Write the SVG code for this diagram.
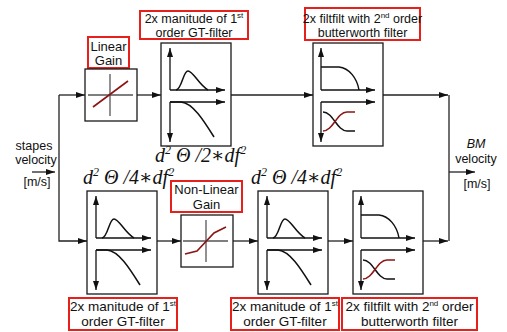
<svg xmlns="http://www.w3.org/2000/svg" xmlns:xlink="http://www.w3.org/1999/xlink" width="507" height="332" viewBox="0 0 507 332">
<style>
.box{fill:#fff;stroke:#1a1a1a;stroke-width:1.3}
.lbl{fill:#fff;stroke:#e8201c;stroke-width:2}
.t{font-family:"Liberation Sans",Arial,sans-serif;font-size:13px;fill:#111;text-anchor:middle}
.ts{font-size:12.5px}
.tb{font-size:13.5px}
.sup{font-size:8px}
.conn{fill:none;stroke:#222;stroke-width:1.3}
.ax{fill:none;stroke:#111;stroke-width:1.3}
.cv{fill:none;stroke:#111;stroke-width:1.5}
.rd{fill:none;stroke:#8b1515;stroke-width:1.6}
.cross{stroke:#555;stroke-width:1.3}
.f{font-family:"Liberation Serif","DejaVu Serif",serif;font-style:italic;font-size:20px;fill:#111}
.fs{font-size:12px}
</style>
<defs>
<marker id="arr" markerUnits="userSpaceOnUse" markerWidth="9" markerHeight="6" refX="9" refY="3" orient="auto">
<path d="M0,0 L9,3 L0,6 z" fill="#111"/>
</marker>
<g id="gtIcon">
<rect class="box" x="0" y="0" width="70" height="103"/>
<path class="ax" d="M9,47 L9,5" marker-end="url(#arr)"/>
<path class="ax" d="M9,47 L64,47" marker-end="url(#arr)"/>
<path class="cv" d="M15,47 C21,46 22,28 27,28 C32,28 38,42 47,47"/>
<path class="ax" d="M9,59 L64,59" marker-end="url(#arr)"/>
<path class="ax" d="M9,59 L9,99" marker-end="url(#arr)"/>
<path class="cv" d="M9,59 L20,59 C32,60 43,78 53,94"/>
</g>
<g id="bwIcon">
<rect class="box" x="0" y="0" width="70" height="103"/>
<path class="ax" d="M8,47 L8,5" marker-end="url(#arr)"/>
<path class="ax" d="M8,47 L62,47" marker-end="url(#arr)"/>
<path class="cv" d="M8,24 L26,24 C36,25 44,35 46,47"/>
<path class="ax" d="M8,59 L62,59" marker-end="url(#arr)"/>
<path class="ax" d="M8,59 L8,99" marker-end="url(#arr)"/>
<path class="cv" d="M10,69 C20,69 24,88 34,88 L42,88"/>
<path class="rd" d="M10,88 C20,88 24,69 34,69 L42,69"/>
</g>
</defs>
<rect width="507" height="332" fill="#fff"/>

<g id="connectors">
<path class="conn" d="M32,172 L55,172" marker-end="url(#arr)"/>
<path class="conn" d="M59,95 L85,95" marker-end="url(#arr)"/>
<path class="conn" d="M59,95 L59,241 L87,241" marker-end="url(#arr)"/>
<path class="conn" d="M137,95 L161,95" marker-end="url(#arr)"/>
<path class="conn" d="M231,95 L313,95" marker-end="url(#arr)"/>
<path class="conn" d="M382,95 L448,95" marker-end="url(#arr)"/>
<path class="conn" d="M449,95 L449,241"/>
<path class="conn" d="M157,241 L181,241" marker-end="url(#arr)"/>
<path class="conn" d="M233,241 L258,241" marker-end="url(#arr)"/>
<path class="conn" d="M327,241 L353,241" marker-end="url(#arr)"/>
<path class="conn" d="M422,241 L448,241" marker-end="url(#arr)"/>
<path class="conn" d="M449,172 L475,172" marker-end="url(#arr)"/>
</g>

<g id="input">
<text class="t ts" x="34" y="149.5">stapes</text>
<text class="t ts" x="36" y="164">velocity</text>
<text class="t ts" x="37" y="186">[m/s]</text>
</g>

<g id="output">
<text class="t ts" x="476" y="148" font-style="italic">BM</text>
<text class="t ts" x="476" y="162.5">velocity</text>
<text class="t ts" x="477" y="188">[m/s]</text>
</g>

<g id="linear-gain">
<rect class="lbl" x="88" y="37" width="41" height="31"/>
<text class="t" x="108.5" y="50.5" font-size="12px">Linear</text>
<text class="t" x="108.5" y="64.5" font-size="12px">Gain</text>
<rect class="box" x="85" y="69" width="52" height="52"/>
<line class="cross" x1="110" y1="74" x2="110" y2="116"/>
<line class="cross" x1="88" y1="95" x2="133" y2="95"/>
<line class="rd" x1="93" y1="107" x2="128" y2="81"/>
</g>

<g id="gt-top">
<rect class="lbl" x="140" y="11" width="108" height="28"/>
<text class="t ts" x="194" y="22.5">2x manitude of 1<tspan class="sup" dy="-5">st</tspan></text>
<text class="t ts" x="194" y="37">order GT-filter</text>
<use xlink:href="#gtIcon" x="161" y="43"/>
<text class="f" x="155" y="162">d<tspan class="fs" dy="-8">2</tspan><tspan dy="8"> Θ /2∗df</tspan><tspan class="fs" dy="-8">2</tspan></text>
</g>

<g id="bw-top">
<rect class="lbl" x="305" y="8" width="115" height="32"/>
<text class="t ts" x="362.5" y="22.5">2x filtfilt with 2<tspan class="sup" dy="-5">nd</tspan><tspan dy="5"> order</tspan></text>
<text class="t ts" x="362.5" y="37">butterworth filter</text>
<use xlink:href="#bwIcon" x="313" y="43"/>
</g>

<g id="gt-bottom-1">
<text class="f" x="83" y="184">d<tspan class="fs" dy="-8">2</tspan><tspan dy="8"> Θ /4∗df</tspan><tspan class="fs" dy="-8">2</tspan></text>
<use xlink:href="#gtIcon" x="87" y="191"/>
<rect class="lbl" x="69" y="298" width="108" height="32"/>
<text class="t tb" x="123" y="310.5">2x manitude of 1<tspan class="sup" dy="-5">st</tspan></text>
<text class="t tb" x="123" y="326">order GT-filter</text>
</g>

<g id="nonlinear-gain">
<rect class="lbl" x="171" y="181" width="71" height="31"/>
<text class="t" x="206.5" y="194">Non-Linear</text>
<text class="t" x="206.5" y="209">Gain</text>
<rect class="box" x="181" y="215" width="52" height="52"/>
<line class="cross" x1="206" y1="220" x2="206" y2="262"/>
<line class="cross" x1="183" y1="241" x2="228" y2="241"/>
<polyline class="rd" points="185,254 197,251 214,233 226,227"/>
</g>

<g id="gt-bottom-2">
<text class="f" x="251" y="184">d<tspan class="fs" dy="-8">2</tspan><tspan dy="8"> Θ /4∗df</tspan><tspan class="fs" dy="-8">2</tspan></text>
<use xlink:href="#gtIcon" x="258" y="191"/>
<rect class="lbl" x="231" y="298" width="108" height="32"/>
<text class="t tb" x="285" y="310.5">2x manitude of 1<tspan class="sup" dy="-5">st</tspan></text>
<text class="t tb" x="285" y="326">order GT-filter</text>
</g>

<g id="bw-bottom">
<use xlink:href="#bwIcon" x="353" y="191"/>
<rect class="lbl" x="342" y="298" width="135" height="32"/>
<text class="t tb" x="409.5" y="310.5">2x filtfilt with 2<tspan class="sup" dy="-5">nd</tspan><tspan dy="5"> order</tspan></text>
<text class="t tb" x="409.5" y="326">butterworth filter</text>
</g>
</svg>
